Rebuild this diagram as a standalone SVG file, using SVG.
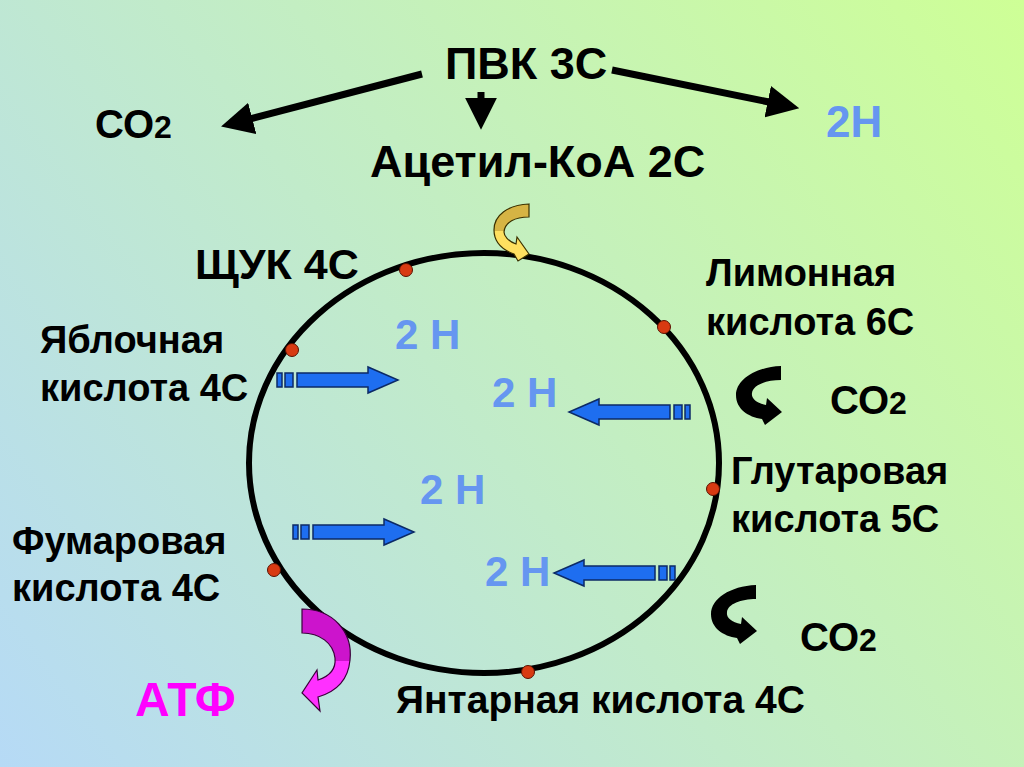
<svg xmlns="http://www.w3.org/2000/svg" width="1024" height="767" viewBox="0 0 1024 767">
<defs>
<linearGradient id="bg" x1="0" y1="767" x2="1024" y2="0" gradientUnits="userSpaceOnUse">
<stop offset="0" stop-color="#b6daf6"/>
<stop offset="1" stop-color="#ceff96"/>
</linearGradient>
<linearGradient id="yel" x1="0" y1="205" x2="0" y2="260" gradientUnits="userSpaceOnUse">
<stop offset="0" stop-color="#d6b444"/>
<stop offset="0.48" stop-color="#d6b444"/>
<stop offset="0.48" stop-color="#ffe060"/>
<stop offset="1" stop-color="#ffe060"/>
</linearGradient>
<linearGradient id="mag" x1="0" y1="610" x2="0" y2="712" gradientUnits="userSpaceOnUse">
<stop offset="0" stop-color="#cc14cc"/>
<stop offset="0.5" stop-color="#cc14cc"/>
<stop offset="0.5" stop-color="#ff30ff"/>
<stop offset="1" stop-color="#ff30ff"/>
</linearGradient>
<marker id="ah" viewBox="0 0 10 10" refX="2" refY="5" markerWidth="4.6" markerHeight="4.6" orient="auto" markerUnits="strokeWidth">
<path d="M0,0 L10,5 L0,10 Z" fill="#000"/>
</marker>
<g id="blueArrow">
<rect x="0" y="-7" width="5" height="14"/>
<rect x="8" y="-7" width="8" height="14"/>
<polygon points="20,-7 91,-7 91,-13 121,0 91,13 91,7 20,7"/>
</g>
<path id="blackCurve" d="M781 366 C755 367 736 380 736 395 C736 409 748 417 762 419 L765 425 L782 412 L767 398 L766 405 C757 403 751 399 752 393 C753 385 766 380 781 380 Z"/>
</defs>
<style>
text{font-family:"Liberation Sans",Arial,sans-serif;font-weight:bold;fill:#000}
.t{font-size:45px}
.l{font-size:38px}
.co{font-size:40px}
.sub{font-size:32px}
.h{font-size:42px;fill:#6696f0}
.atp{font-size:48px;fill:#ff00ff}
.dot{fill:#d83a12;stroke:#5a1000;stroke-width:1}
.ba{fill:#1e6ef0;stroke:#0c2a66;stroke-width:1.5}
.top{stroke:#000;stroke-width:7;fill:none;marker-end:url(#ah)}
</style>
<rect x="0" y="0" width="1024" height="767" fill="url(#bg)"/>

<g id="connectors">
<line class="top" x1="422" y1="74" x2="246" y2="120"/>
<line class="top" x1="481" y1="92" x2="481" y2="104"/>
<line class="top" x1="612" y1="70" x2="774" y2="103"/>
<use href="#blueArrow" class="ba" transform="translate(277,380)"/>
<use href="#blueArrow" class="ba" transform="translate(690,412) scale(-1,1)"/>
<use href="#blueArrow" class="ba" transform="translate(293,532)"/>
<use href="#blueArrow" class="ba" transform="translate(675,573) scale(-1,1)"/>
<use href="#blackCurve" fill="#000"/>
<use href="#blackCurve" fill="#000" transform="translate(-25,219)"/>
</g>

<g id="cycle">
<ellipse cx="484" cy="463" rx="235" ry="210" fill="none" stroke="#000" stroke-width="6"/>
<circle class="dot" cx="406" cy="270" r="6.5"/>
<circle class="dot" cx="664" cy="327" r="6.5"/>
<circle class="dot" cx="292" cy="350" r="6.5"/>
<circle class="dot" cx="713" cy="489" r="6.5"/>
<circle class="dot" cx="274" cy="570" r="6.5"/>
<circle class="dot" cx="528" cy="672" r="6.5"/>
</g>

<g id="curved-arrows">
<path d="M529 204 C508 205 494 215 494 230 C494 243 503 250 514 254 L518 261 L529 254 L517 237 L516 244 C508 241 504 236 504 232 C505 222 515 217 529 217 Z" fill="url(#yel)" stroke="#3a3000" stroke-width="1.2"/>
<path d="M302 609 C333 609 353 632 350 660 C348 682 335 692 318 697 L320 711 L302 693 L317 670 L318 680 C330 676 336 668 335 658 C333 643 320 633 302 633 Z" fill="url(#mag)" stroke="#3a003a" stroke-width="1.2"/>
</g>

<g id="node-pvk"><text class="t" x="445" y="79">ПВК 3С</text></g>
<g id="node-acetyl"><text class="t" x="370" y="177">Ацетил-КоА 2С</text></g>
<g id="node-co2-top"><text class="co" x="95" y="138">СО<tspan class="sub">2</tspan></text></g>
<g id="node-2h-top"><text class="h" x="826" y="137" style="font-size:44px">2Н</text></g>
<g id="node-shchuk"><text class="t" x="195" y="279" style="font-size:43px">ЩУК 4С</text></g>
<g id="node-limon"><text class="l" x="706" y="286">Лимонная</text><text class="l" x="706" y="335">кислота 6С</text></g>
<g id="node-yabloch"><text class="l" x="40" y="353">Яблочная</text><text class="l" x="40" y="401">кислота 4С</text></g>
<g id="node-co2-1"><text class="co" x="830" y="414">СО<tspan class="sub">2</tspan></text></g>
<g id="node-glutar"><text class="l" x="731" y="484">Глутаровая</text><text class="l" x="731" y="532">кислота 5С</text></g>
<g id="node-fumar"><text class="l" x="12" y="554">Фумаровая</text><text class="l" x="12" y="601">кислота 4С</text></g>
<g id="node-co2-2"><text class="co" x="800" y="651">СО<tspan class="sub">2</tspan></text></g>
<g id="node-yantar"><text class="l" x="396" y="713" style="font-size:39px">Янтарная кислота 4С</text></g>
<g id="node-atf"><text class="atp" x="135" y="716">АТФ</text></g>
<g id="node-h1"><text class="h" x="395" y="349">2 Н</text></g>
<g id="node-h2"><text class="h" x="492" y="407">2 Н</text></g>
<g id="node-h3"><text class="h" x="420" y="504">2 Н</text></g>
<g id="node-h4"><text class="h" x="485" y="586">2 Н</text></g>
</svg>
